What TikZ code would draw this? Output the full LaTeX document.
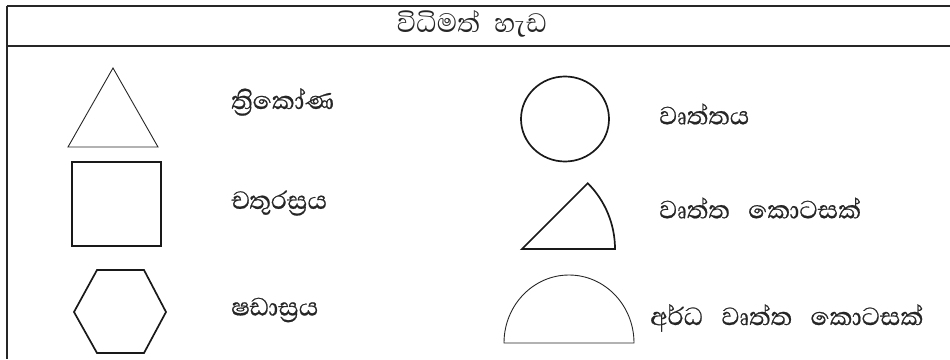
\documentclass[tikz,border=0pt]{standalone}
\usepackage{fontspec}
\newfontfamily\sinhala[Script=Sinhala,WordSpace={3,0,0},FakeBold=0.6]{Abhaya Libre}
\newfontfamily\sinhalatitle[Script=Sinhala,WordSpace={2.2,0,0}]{Abhaya Libre}
\begin{document}
\begin{tikzpicture}[x=1pt,y=-1pt,
  frame/.style={draw=black!85,line width=2pt},
  thin shape/.style={draw=black!85,line width=0.9pt},
  thick shape/.style={draw=black!90,line width=1.7pt},
  lbl/.style={anchor=west,inner sep=0pt,font=\sinhala\fontsize{32}{36}\selectfont,text=black!85}]
\useasboundingbox (0,0) rectangle (950,359);
% frame
\coordinate (tl) at (6.5,5.5);
\coordinate (tr) at (950,5.5);
\coordinate (hl) at (6.5,46);
\coordinate (hr) at (950,46);
\coordinate (bl) at (6.5,359);
\draw[frame] (tl) -- (tr);
\draw[frame,line width=2.4pt] (hl) -- (hr);
\draw[frame] (tl) -- (bl);
\node[font=\sinhalatitle\fontsize{34}{38}\selectfont,text=black!85,inner sep=0pt] (title) at (472,24) {විධිමත් හැඩ};
% triangle
\draw[thin shape] (113,68) -- (158,147) -- (68,147) -- cycle;
\node[lbl] (t1) at (231,102) {ත්‍රිකෝණ};
% square
\draw[thick shape] (72,162) rectangle (161,246);
\node[lbl] (t2) at (231,203) {චතුරස්‍රය};
% hexagon
\draw[thick shape] (97,270) -- (144,270) -- (166,312) -- (144,353) -- (97,353) -- (74,312) -- cycle;
\node[lbl] (t3) at (231,310) {ෂඩාස්‍රය};
% circle
\draw[thick shape] (565,119) ellipse [x radius=44,y radius=42.5];
\node[lbl] (t4) at (659,114) {වෘත්තය};
% sector
\draw[thick shape] (522,249) -- (615,249) arc[start angle=0,end angle=-45,radius=93] -- cycle;
\node[lbl] (t5) at (659,208) {වෘත්ත කොටසක්};
% semicircle
\draw[thin shape] (504,343) -- (634,343) arc[start angle=0,end angle=-180,x radius=65,y radius=68] -- cycle;
\node[lbl] (t6) at (650,318) {අර්ධ වෘත්ත කොටසක්};
\end{tikzpicture}
\end{document}
